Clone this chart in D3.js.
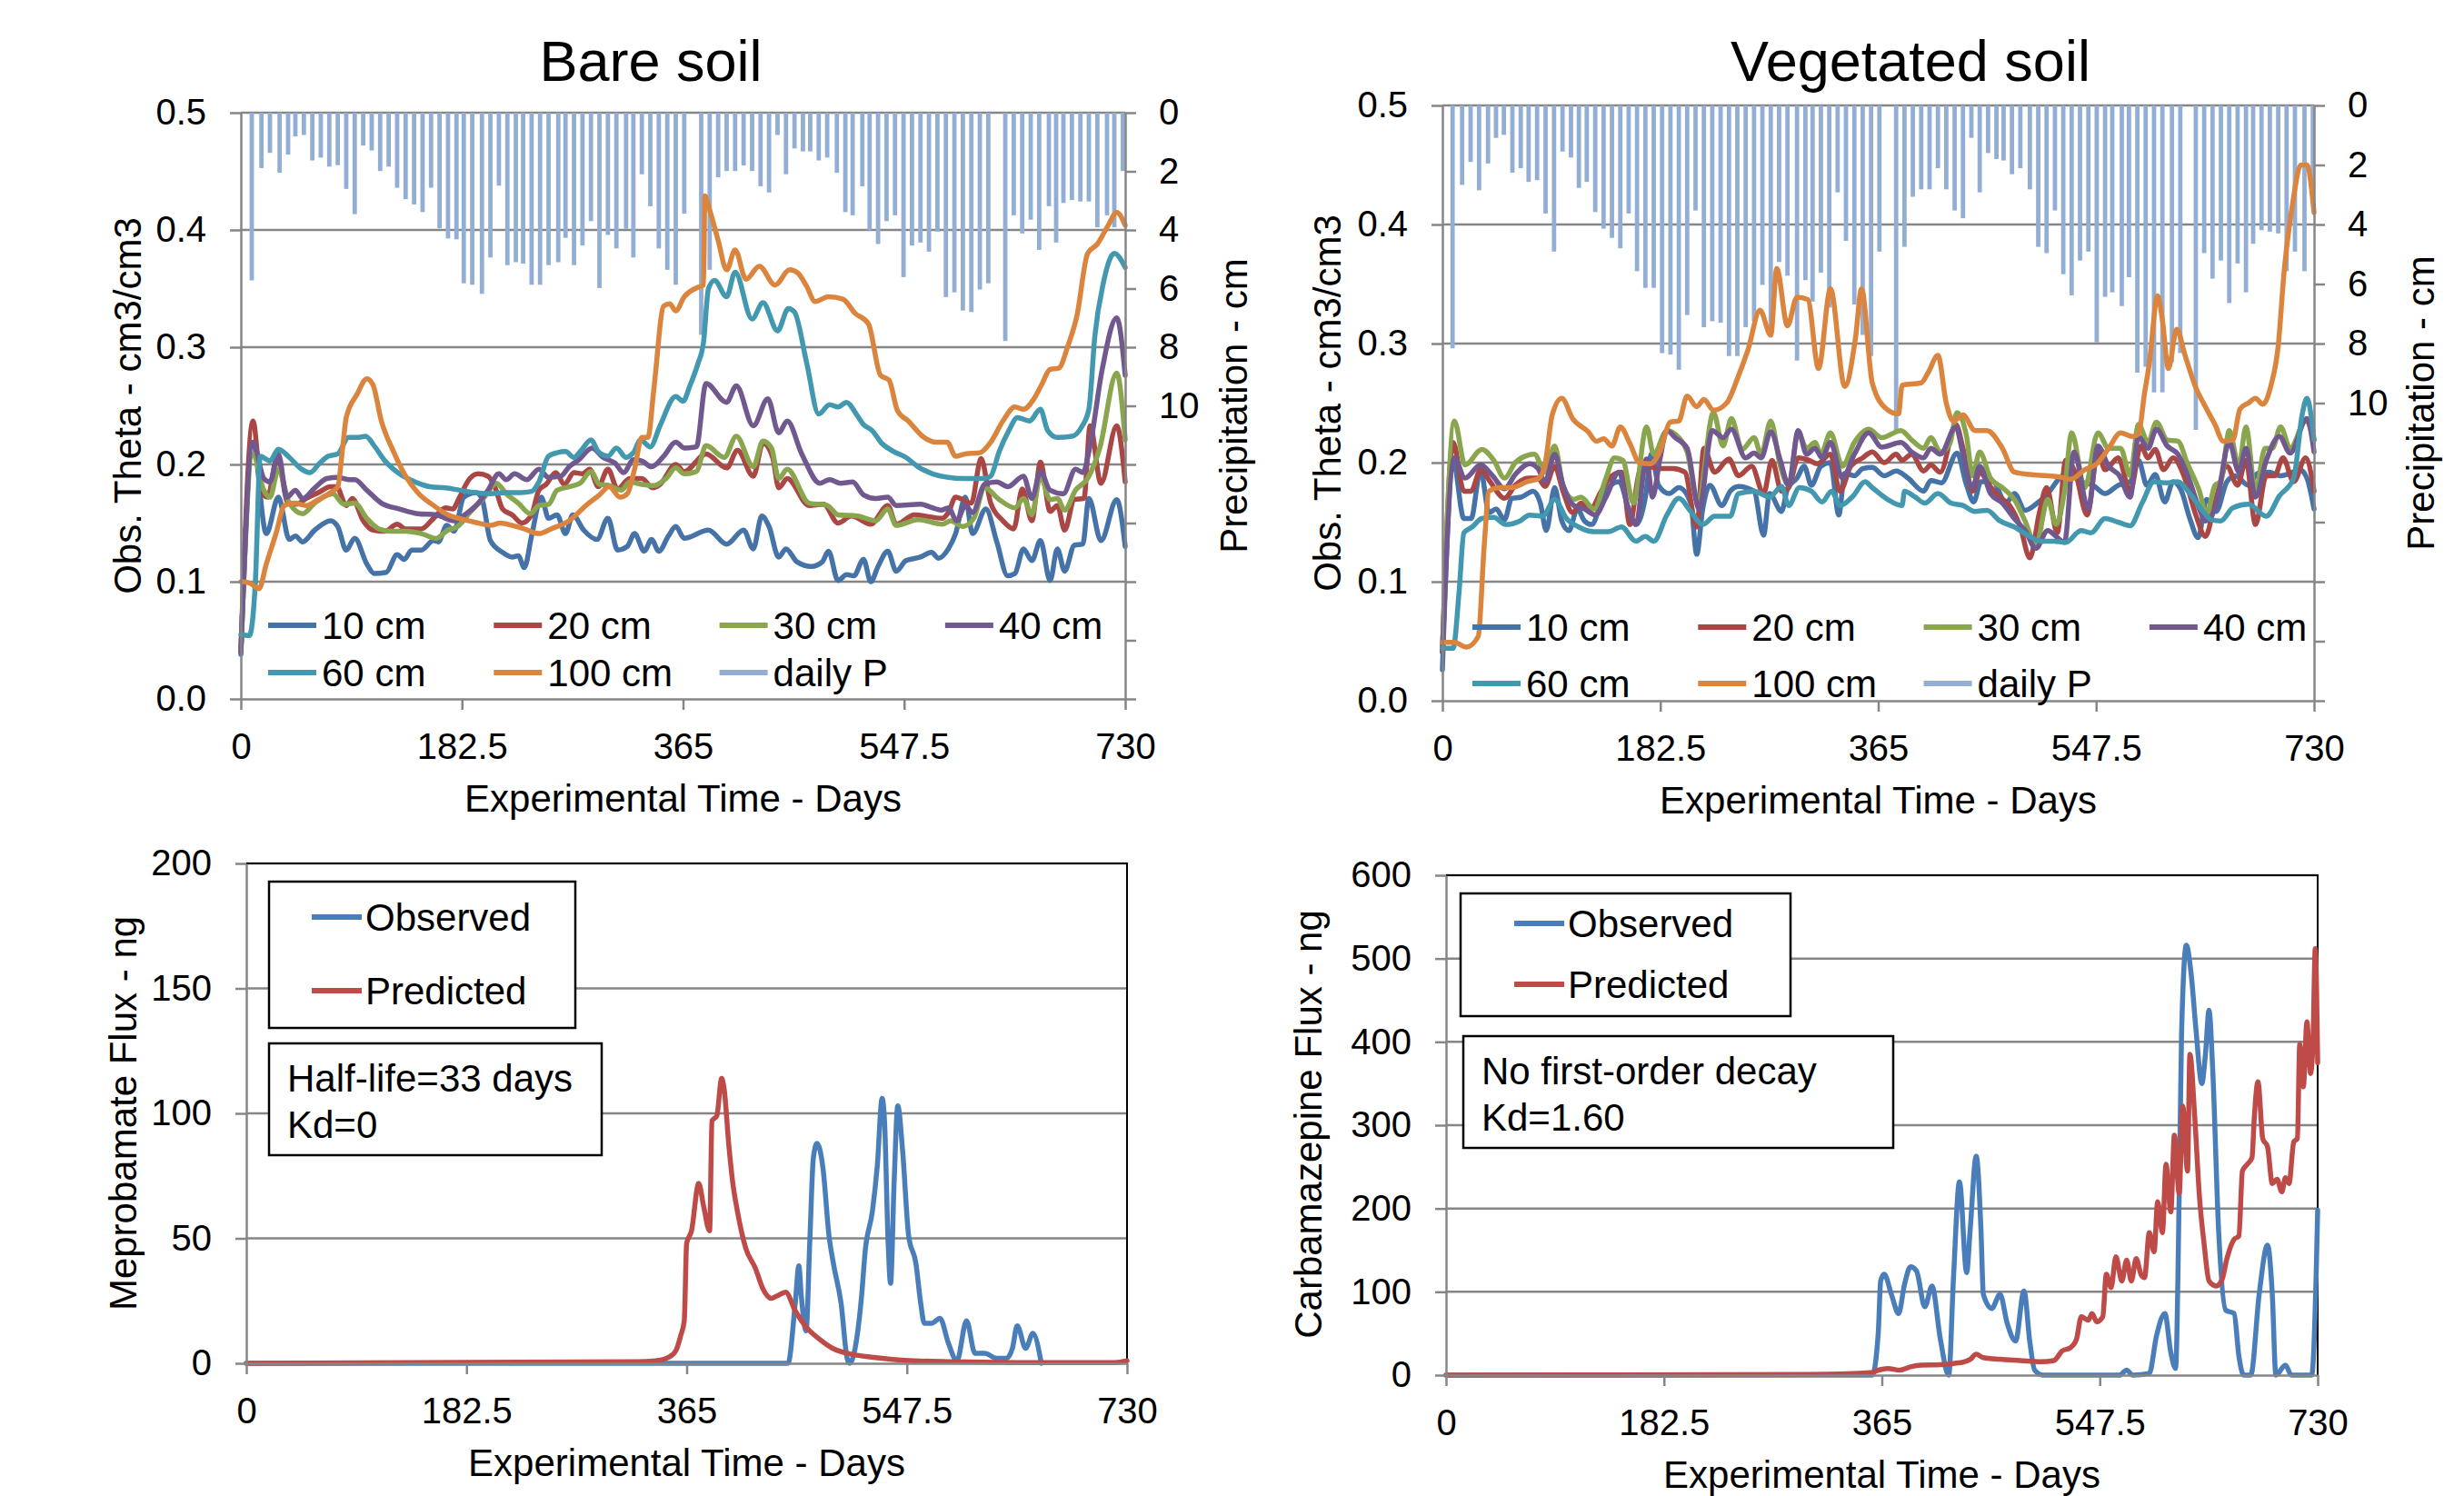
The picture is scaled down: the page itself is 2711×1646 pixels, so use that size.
<!DOCTYPE html>
<html>
<head>
<meta charset="utf-8">
<title>Soil moisture and drug flux</title>
<script src="https://d3js.org/d3.v7.min.js"></script>
<style>
  body { margin: 0; background: #fff; }
  text { font-family: "Liberation Sans", Arial, sans-serif; fill: #000; }
</style>
</head>
<body>
<svg width="2711" height="1646"></svg>
<script>
// ---- data: [day, value] pairs ----
const xTicks = [0, 182.5, 365, 547.5, 730];
const depthNames = ['10 cm', '20 cm', '30 cm', '40 cm', '60 cm', '100 cm'];

// bare soil, volumetric water content
const bare10 = [[0,0.038],[10,0.219],[21,0.141],[31,0.172],[40,0.136],[45,0.139],[51,0.134],[61,0.144],[74,0.152],[80,0.147],[87,0.127],[94,0.137],[104,0.115],[110,0.107],[120,0.108],[129,0.123],[135,0.119],[141,0.127],[149,0.127],[159,0.135],[163,0.134],[170,0.148],[176,0.143],[184,0.172],[194,0.176],[199,0.171],[206,0.135],[216,0.125],[224,0.121],[229,0.122],[234,0.112],[240,0.139],[248,0.172],[254,0.154],[261,0.157],[268,0.141],[274,0.157],[283,0.144],[294,0.136],[303,0.154],[311,0.127],[319,0.130],[325,0.141],[333,0.126],[339,0.136],[345,0.126],[353,0.139],[359,0.147],[366,0.137],[386,0.144],[401,0.132],[415,0.144],[423,0.128],[430,0.156],[436,0.147],[444,0.121],[450,0.128],[459,0.117],[471,0.113],[480,0.117],[485,0.126],[493,0.101],[500,0.106],[506,0.105],[514,0.119],[520,0.100],[526,0.113],[534,0.126],[541,0.109],[549,0.118],[561,0.121],[570,0.125],[576,0.120],[584,0.128],[590,0.141],[598,0.172],[604,0.141],[615,0.162],[624,0.134],[633,0.105],[639,0.107],[646,0.128],[653,0.118],[660,0.135],[668,0.101],[674,0.128],[680,0.109],[688,0.131],[695,0.132],[700,0.171],[710,0.135],[723,0.170],[730,0.130]];
const bare20 = [[0,0.04],[10,0.237],[17,0.178],[22,0.172],[30,0.206],[39,0.167],[46,0.166],[54,0.171],[64,0.176],[74,0.181],[79,0.181],[87,0.165],[92,0.171],[101,0.152],[109,0.144],[119,0.143],[129,0.149],[136,0.145],[149,0.145],[159,0.154],[169,0.163],[175,0.162],[180,0.171],[189,0.188],[196,0.192],[204,0.190],[210,0.180],[216,0.162],[224,0.157],[232,0.150],[240,0.157],[246,0.178],[252,0.183],[260,0.193],[267,0.183],[275,0.193],[282,0.192],[288,0.196],[295,0.181],[303,0.196],[311,0.179],[321,0.188],[331,0.188],[340,0.180],[346,0.183],[359,0.200],[366,0.194],[384,0.209],[401,0.197],[410,0.212],[423,0.190],[431,0.218],[439,0.206],[444,0.180],[451,0.188],[469,0.165],[481,0.166],[493,0.150],[504,0.156],[520,0.149],[534,0.165],[541,0.149],[556,0.157],[579,0.154],[584,0.159],[590,0.172],[603,0.167],[611,0.205],[619,0.167],[629,0.152],[638,0.145],[645,0.179],[653,0.152],[660,0.202],[668,0.160],[674,0.165],[680,0.144],[688,0.170],[696,0.171],[701,0.233],[710,0.184],[723,0.233],[730,0.185]];
const bare30 = [[0,0.04],[10,0.209],[19,0.178],[24,0.172],[31,0.196],[40,0.167],[51,0.158],[61,0.167],[76,0.175],[85,0.166],[94,0.167],[104,0.154],[114,0.145],[124,0.143],[136,0.143],[149,0.141],[161,0.137],[171,0.144],[179,0.147],[189,0.159],[201,0.172],[211,0.184],[219,0.175],[229,0.167],[239,0.158],[246,0.165],[254,0.166],[261,0.178],[271,0.181],[280,0.184],[289,0.194],[296,0.183],[304,0.182],[314,0.178],[321,0.185],[331,0.183],[341,0.182],[351,0.188],[359,0.197],[366,0.192],[376,0.194],[384,0.216],[399,0.206],[409,0.224],[423,0.198],[431,0.220],[438,0.214],[444,0.188],[451,0.196],[469,0.167],[484,0.165],[493,0.157],[509,0.156],[524,0.152],[534,0.162],[541,0.148],[559,0.153],[579,0.149],[586,0.152],[596,0.147],[605,0.154],[614,0.180],[626,0.170],[639,0.163],[646,0.171],[653,0.157],[660,0.190],[668,0.170],[674,0.171],[680,0.161],[689,0.178],[699,0.188],[709,0.214],[723,0.278],[730,0.221]];
const bare40 = [[0,0.04],[10,0.219],[19,0.188],[24,0.185],[31,0.209],[38,0.172],[45,0.178],[51,0.171],[61,0.180],[71,0.188],[80,0.189],[89,0.187],[94,0.187],[104,0.178],[116,0.167],[131,0.162],[146,0.158],[161,0.157],[176,0.152],[186,0.158],[196,0.167],[204,0.178],[213,0.192],[219,0.187],[226,0.192],[236,0.187],[246,0.196],[254,0.189],[264,0.190],[271,0.198],[279,0.204],[290,0.214],[299,0.206],[309,0.201],[316,0.193],[324,0.204],[331,0.203],[339,0.198],[349,0.207],[359,0.219],[366,0.214],[376,0.215],[384,0.269],[401,0.253],[409,0.267],[423,0.233],[435,0.256],[444,0.227],[451,0.237],[463,0.209],[478,0.184],[486,0.187],[495,0.184],[505,0.185],[514,0.174],[524,0.171],[534,0.172],[541,0.165],[561,0.166],[571,0.163],[578,0.161],[584,0.163],[591,0.152],[598,0.165],[604,0.159],[614,0.183],[624,0.185],[633,0.181],[646,0.190],[653,0.171],[660,0.194],[668,0.178],[679,0.175],[689,0.196],[695,0.193],[701,0.216],[711,0.281],[723,0.325],[730,0.276]];
const bare60 = [[0,0.055],[7,0.054],[12,0.100],[16,0.207],[24,0.203],[31,0.213],[40,0.206],[50,0.196],[57,0.193],[65,0.201],[72,0.207],[80,0.209],[89,0.223],[96,0.223],[103,0.224],[110,0.216],[119,0.203],[131,0.192],[144,0.185],[156,0.181],[169,0.180],[181,0.178],[194,0.176],[206,0.175],[219,0.176],[231,0.176],[240,0.177],[246,0.185],[254,0.207],[261,0.210],[268,0.211],[275,0.206],[281,0.212],[289,0.221],[295,0.211],[303,0.207],[310,0.214],[318,0.206],[324,0.210],[330,0.221],[338,0.215],[346,0.233],[359,0.258],[365,0.254],[371,0.268],[377,0.285],[382,0.305],[386,0.350],[391,0.357],[401,0.343],[408,0.364],[422,0.324],[431,0.338],[443,0.314],[452,0.333],[457,0.330],[467,0.287],[477,0.243],[486,0.251],[493,0.249],[500,0.253],[508,0.243],[514,0.234],[521,0.229],[529,0.218],[539,0.211],[549,0.206],[559,0.198],[571,0.192],[584,0.189],[596,0.188],[614,0.188],[619,0.190],[626,0.211],[634,0.229],[641,0.240],[651,0.237],[660,0.247],[666,0.229],[674,0.223],[686,0.224],[694,0.232],[700,0.247],[705,0.310],[712,0.355],[721,0.380],[730,0.368]];
const bare100 = [[0,0.100],[7,0.099],[15,0.094],[21,0.115],[29,0.141],[36,0.165],[44,0.167],[54,0.165],[64,0.170],[74,0.176],[80,0.181],[84,0.214],[87,0.240],[96,0.260],[104,0.273],[109,0.268],[116,0.237],[126,0.211],[136,0.190],[146,0.176],[159,0.165],[171,0.157],[184,0.153],[196,0.150],[206,0.148],[214,0.150],[224,0.148],[234,0.145],[246,0.141],[256,0.145],[271,0.152],[286,0.166],[296,0.174],[304,0.181],[313,0.172],[319,0.175],[325,0.196],[331,0.223],[336,0.223],[341,0.265],[349,0.335],[354,0.337],[359,0.331],[366,0.343],[377,0.351],[382,0.353],[383,0.429],[387,0.417],[394,0.391],[401,0.366],[408,0.383],[417,0.358],[428,0.369],[441,0.353],[453,0.366],[460,0.363],[467,0.352],[474,0.339],[485,0.343],[497,0.341],[507,0.329],[518,0.320],[528,0.276],[535,0.272],[542,0.246],[551,0.237],[564,0.223],[574,0.219],[583,0.219],[590,0.207],[598,0.209],[610,0.210],[619,0.219],[629,0.237],[639,0.249],[646,0.247],[654,0.255],[661,0.268],[668,0.281],[675,0.282],[683,0.302],[690,0.326],[699,0.380],[707,0.388],[716,0.404],[723,0.415],[730,0.404]];
// bare soil, weekly precipitation (cm)
const bareRain = [[9,5.72],[17,1.89],[24,1.37],[32,2.05],[39,1.43],[45,0.81],[52,0.76],[59,1.63],[66,1.53],[73,1.84],[80,1.79],[87,2.6],[94,3.46],[101,1.12],[108,1.29],[115,1.99],[122,1.84],[129,2.56],[136,2.95],[143,3.13],[150,3.39],[157,2.56],[164,3.94],[171,4.29],[178,4.32],[184,5.82],[191,5.87],[199,6.18],[206,4.94],[213,2.49],[220,5.2],[227,5.1],[233,5.15],[240,5.87],[247,5.87],[254,5.2],[262,5.1],[268,4.27],[275,5.2],[282,4.53],[289,3.7],[296,5.98],[303,4.17],[310,4.63],[318,3.96],[324,4.94],[331,2.1],[338,3.19],[345,4.63],[352,5.36],[359,5.87],[366,3.44],[380,7.58],[387,5.36],[394,2.2],[401,1.99],[408,1.99],[415,1.8],[422,1.99],[429,2.51],[436,2.72],[443,0.76],[450,2.1],[457,1.22],[464,1.32],[470,1.32],[477,1.63],[484,1.53],[492,2.05],[499,3.39],[505,3.5],[513,2.51],[519,4.01],[526,4.48],[533,3.7],[540,3.5],[547,5.61],[554,4.53],[561,4.43],[568,4.74],[575,4.06],[582,6.29],[589,6.13],[596,6.75],[603,6.8],[610,6.03],[617,5.82],[631,7.79],[638,3.5],[645,4.12],[652,3.65],[659,4.68],[667,3.19],[673,4.43],[679,3.08],[686,2.98],[693,3.03],[700,3.03],[707,3.91],[715,3.5],[721,3.91],[728,1.99]];

// vegetated soil, volumetric water content
const veg10 = [[0,0.026],[9,0.202],[18,0.153],[24,0.153],[32,0.194],[39,0.158],[45,0.161],[52,0.152],[58,0.170],[66,0.171],[76,0.176],[82,0.166],[87,0.143],[94,0.179],[100,0.151],[106,0.143],[113,0.161],[119,0.151],[125,0.148],[133,0.166],[141,0.181],[148,0.184],[156,0.161],[162,0.148],[170,0.171],[175,0.207],[181,0.181],[190,0.174],[198,0.179],[208,0.166],[213,0.123],[218,0.161],[224,0.181],[234,0.164],[241,0.176],[248,0.180],[261,0.176],[269,0.139],[274,0.174],[284,0.159],[289,0.178],[297,0.187],[303,0.197],[309,0.181],[317,0.197],[325,0.200],[332,0.156],[337,0.191],[345,0.189],[352,0.195],[360,0.196],[370,0.189],[380,0.193],[390,0.187],[403,0.176],[409,0.185],[418,0.183],[431,0.208],[439,0.181],[445,0.167],[451,0.184],[461,0.184],[472,0.166],[479,0.174],[488,0.160],[497,0.165],[507,0.174],[517,0.187],[525,0.192],[535,0.184],[545,0.181],[555,0.174],[566,0.181],[576,0.184],[583,0.202],[590,0.181],[597,0.190],[605,0.167],[612,0.184],[619,0.176],[626,0.153],[633,0.137],[640,0.169],[648,0.159],[657,0.184],[664,0.189],[675,0.181],[683,0.191],[692,0.192],[702,0.189],[710,0.191],[718,0.194],[724,0.187],[730,0.161]];
const veg20 = [[0,0.041],[9,0.217],[18,0.176],[24,0.176],[32,0.194],[40,0.184],[52,0.170],[61,0.181],[72,0.187],[80,0.187],[86,0.180],[94,0.197],[101,0.176],[109,0.158],[116,0.166],[124,0.161],[133,0.176],[142,0.189],[150,0.192],[157,0.148],[165,0.192],[172,0.197],[180,0.195],[193,0.195],[203,0.192],[213,0.146],[219,0.212],[228,0.192],[240,0.203],[248,0.189],[259,0.197],[269,0.174],[276,0.202],[284,0.176],[290,0.179],[298,0.204],[307,0.202],[314,0.199],[325,0.207],[333,0.176],[342,0.197],[352,0.204],[360,0.209],[370,0.200],[380,0.207],[385,0.202],[393,0.207],[403,0.193],[409,0.198],[417,0.192],[430,0.232],[436,0.212],[444,0.176],[450,0.192],[458,0.181],[467,0.171],[475,0.164],[484,0.146],[492,0.120],[500,0.158],[506,0.179],[515,0.141],[522,0.202],[530,0.192],[540,0.156],[549,0.209],[555,0.194],[566,0.204],[576,0.176],[585,0.214],[591,0.204],[597,0.211],[604,0.194],[612,0.204],[621,0.189],[631,0.156],[639,0.138],[647,0.166],[657,0.197],[666,0.181],[673,0.202],[681,0.148],[690,0.189],[697,0.189],[704,0.204],[713,0.184],[723,0.204],[730,0.176]];
const veg30 = [[0,0.041],[10,0.235],[19,0.198],[33,0.211],[43,0.202],[52,0.187],[61,0.200],[71,0.206],[77,0.207],[86,0.192],[94,0.214],[101,0.181],[110,0.169],[116,0.171],[127,0.161],[137,0.187],[144,0.204],[151,0.202],[160,0.166],[171,0.230],[177,0.207],[188,0.227],[198,0.221],[205,0.209],[214,0.166],[227,0.242],[235,0.214],[242,0.237],[251,0.211],[261,0.221],[267,0.207],[275,0.235],[283,0.197],[290,0.181],[298,0.225],[305,0.212],[312,0.217],[317,0.207],[325,0.225],[335,0.197],[345,0.217],[357,0.228],[368,0.221],[384,0.227],[393,0.219],[403,0.212],[409,0.221],[417,0.209],[425,0.216],[431,0.242],[439,0.222],[444,0.189],[450,0.209],[459,0.187],[469,0.179],[479,0.169],[488,0.151],[497,0.130],[507,0.169],[514,0.148],[521,0.176],[527,0.225],[538,0.179],[549,0.225],[558,0.212],[568,0.212],[576,0.189],[583,0.232],[591,0.217],[598,0.234],[607,0.219],[616,0.218],[624,0.199],[634,0.176],[640,0.156],[647,0.181],[652,0.184],[659,0.227],[667,0.197],[673,0.230],[681,0.176],[689,0.212],[695,0.212],[702,0.230],[710,0.212],[723,0.235],[730,0.219]];
const veg40 = [[0,0.041],[10,0.204],[19,0.187],[32,0.198],[42,0.189],[52,0.178],[61,0.190],[73,0.199],[80,0.195],[86,0.184],[94,0.207],[101,0.181],[110,0.164],[119,0.161],[128,0.156],[137,0.171],[148,0.192],[155,0.164],[162,0.148],[171,0.203],[176,0.171],[182,0.202],[188,0.227],[195,0.221],[205,0.212],[215,0.161],[226,0.227],[235,0.221],[242,0.228],[254,0.204],[261,0.208],[267,0.204],[275,0.226],[283,0.202],[290,0.181],[298,0.227],[305,0.207],[312,0.212],[318,0.204],[325,0.217],[335,0.187],[345,0.207],[357,0.225],[368,0.213],[384,0.217],[393,0.209],[403,0.204],[409,0.212],[417,0.207],[430,0.230],[436,0.207],[444,0.179],[450,0.197],[459,0.174],[469,0.166],[479,0.153],[488,0.143],[497,0.128],[507,0.143],[514,0.138],[521,0.133],[529,0.209],[541,0.161],[549,0.214],[558,0.197],[567,0.189],[576,0.171],[583,0.222],[591,0.212],[598,0.228],[607,0.214],[616,0.207],[625,0.187],[634,0.161],[639,0.151],[648,0.164],[659,0.217],[667,0.192],[673,0.212],[681,0.171],[690,0.202],[701,0.222],[710,0.208],[724,0.237],[730,0.209]];
const veg60 = [[0,0.044],[9,0.044],[14,0.092],[18,0.141],[25,0.146],[33,0.153],[43,0.154],[53,0.148],[65,0.151],[73,0.156],[84,0.155],[94,0.169],[104,0.153],[114,0.146],[127,0.142],[139,0.142],[150,0.146],[162,0.134],[170,0.138],[177,0.134],[188,0.156],[198,0.170],[208,0.159],[218,0.148],[228,0.155],[241,0.155],[248,0.174],[261,0.176],[274,0.171],[284,0.180],[290,0.164],[299,0.179],[309,0.176],[318,0.167],[326,0.176],[333,0.164],[344,0.172],[354,0.184],[360,0.179],[373,0.169],[385,0.164],[387,0.176],[396,0.171],[404,0.166],[415,0.174],[426,0.166],[436,0.164],[446,0.159],[456,0.160],[467,0.151],[479,0.146],[492,0.138],[502,0.134],[512,0.134],[522,0.133],[535,0.143],[543,0.141],[555,0.153],[566,0.150],[576,0.147],[586,0.166],[596,0.184],[606,0.183],[616,0.184],[626,0.174],[637,0.159],[644,0.152],[652,0.151],[662,0.162],[675,0.165],[690,0.155],[701,0.172],[713,0.187],[720,0.240],[724,0.254],[730,0.219]];
const veg100 = [[0,0.049],[10,0.049],[20,0.045],[30,0.054],[35,0.130],[39,0.176],[48,0.179],[58,0.179],[71,0.184],[81,0.187],[86,0.199],[92,0.240],[100,0.254],[109,0.237],[122,0.226],[129,0.218],[135,0.220],[142,0.214],[149,0.230],[157,0.216],[165,0.200],[174,0.199],[182,0.209],[191,0.234],[198,0.235],[205,0.256],[213,0.247],[219,0.253],[227,0.244],[238,0.250],[248,0.273],[256,0.295],[266,0.328],[275,0.307],[280,0.363],[289,0.315],[297,0.339],[306,0.337],[315,0.279],[325,0.346],[337,0.264],[346,0.305],[351,0.346],[360,0.267],[372,0.245],[382,0.241],[385,0.265],[401,0.267],[407,0.276],[415,0.290],[422,0.250],[428,0.235],[436,0.240],[446,0.227],[456,0.227],[469,0.212],[479,0.192],[492,0.190],[507,0.189],[517,0.188],[526,0.186],[538,0.194],[548,0.199],[558,0.212],[568,0.225],[578,0.222],[583,0.224],[588,0.258],[592,0.283],[599,0.340],[603,0.320],[608,0.279],[615,0.312],[622,0.290],[631,0.263],[639,0.247],[647,0.232],[654,0.218],[662,0.219],[668,0.245],[675,0.250],[681,0.254],[687,0.249],[694,0.265],[700,0.298],[705,0.361],[712,0.417],[719,0.450],[724,0.450],[730,0.410]];
// vegetated soil, weekly precipitation (cm)
const vegRain = [[8.5,8.16],[16.5,2.67],[23.6,1.9],[30.7,2.85],[38.2,1.95],[44.9,1.09],[51.5,0.99],[58.6,2.26],[65.6,2.11],[72.2,2.57],[79.3,2.51],[86.4,3.63],[93.5,4.91],[100.6,1.55],[107.7,1.75],[114.3,2.77],[120.9,2.57],[128,3.58],[135,4.14],[142,4.45],[149,4.8],[156,3.63],[163,5.57],[170,6.13],[177,6.13],[184,8.32],[191,8.37],[198,8.88],[205,7.04],[212,3.53],[219,7.45],[226,7.25],[233,7.3],[240,8.42],[247,8.42],[254,7.45],[261,7.25],[268,6.03],[275,7.71],[282,5.26],[289,5.72],[297,8.57],[304,5.87],[310,6.59],[317,5.62],[324,6.79],[331,2.92],[338,4.55],[345,6.69],[352,7.71],[359,8.42],[366,4.91],[380,10.9],[387,4.75],[394,3.07],[401,2.82],[408,2.82],[415,2.11],[422,2.82],[429,3.53],[436,3.79],[443,1.09],[450,2.92],[457,1.6],[464,1.8],[470,1.85],[477,2.31],[484,2.11],[492,2.82],[499,4.75],[506,4.96],[513,3.53],[520,5.67],[527,6.38],[534,5.21],[541,4.91],[548,7.96],[555,6.43],[561,6.28],[569,6.74],[575,5.77],[582,8.98],[589,8.78],[596,9.64],[603,9.64],[611,8.62],[618,8.32],[631,10.9],[638,4.96],[645,5.82],[652,5.21],[659,6.64],[666,5.31],[673,6.28],[679,4.65],[686,4.19],[693,4.24],[700,4.3],[707,5.57],[714,4.91],[722,5.57],[729,2.92]];

// meprobamate flux (ng), bare soil
const mepObserved = [[0,0],[449,0],[455,24],[458,39],[460,27],[464,13],[467,48],[470,82],[473,88],[478,78],[483,51],[487,39],[493,24],[498,2],[500,0],[506,10],[510,27],[513,45],[519,61],[523,79],[527,106],[529,97],[532,48],[534,32],[537,73],[540,103],[544,85],[549,51],[555,40],[559,24],[562,16],[568,16],[575,18],[582,8],[589,1],[597,17],[604,4],[612,4],[622,2],[630,2],[635,6],[639,15],[646,6],[652,12],[659,0]];
const mepPredicted = [[0,0],[324,0.6],[339,1],[350,2.4],[356,5],[360,11],[363,17],[365,48],[369,53],[375,72],[379,63],[384,53],[386,97],[390,99],[394,114],[396,110],[400,87],[403,73],[407,61],[414,46],[422,38],[428,30],[435,26],[440,27],[447,28.5],[455,21],[465,14],[475,9.7],[486,6],[502,3.6],[520,2.4],[546,1.2],[585,0.6],[638,0.3],[720,0.3],[730,1]];

// carbamazepine flux (ng), vegetated soil
const cbzObserved = [[0,0],[357,0],[362,51],[364,113],[367,121],[373,97],[379,74],[384,109],[389,130],[394,125],[401,82],[407,107],[414,43],[421,0],[425,117],[430,232],[436,123],[439,175],[444,263],[448,175],[450,97],[457,80],[464,97],[470,62],[477,41],[484,101],[489,39],[493,6],[500,0],[564,0],[570,6],[575,0],[589,2],[595,47],[602,74],[607,27],[611,8],[614,214],[616,409],[620,516],[624,482],[628,416],[633,350],[636,385],[639,438],[642,370],[647,175],[653,78],[660,74],[664,23],[668,0],[674,0],[681,97],[688,156],[692,97],[695,0],[703,12],[708,0],[725,0],[729,136],[730,198]];
const cbzPredicted = [[0,0],[303,0.8],[356,3],[362,6],[370,8],[380,6],[389,10],[398,12],[414,12.5],[425,14],[434,16],[439,19],[444,25],[450,21],[464,19],[481,17.5],[498,16],[509,17.5],[516,29],[523,33],[528,43],[532,70],[538,66],[541,74],[545,64],[550,70],[553,121],[557,105],[561,142],[566,113],[570,138],[574,113],[578,140],[582,121],[585,117],[589,171],[593,148],[596,208],[600,171],[603,253],[607,196],[610,288],[614,218],[617,323],[621,245],[623,385],[627,311],[631,214],[635,156],[639,113],[645,107],[650,115],[654,140],[660,163],[664,167],[667,245],[671,253],[675,261],[677,311],[680,352],[684,284],[688,274],[692,230],[696,235],[700,220],[703,237],[706,230],[710,280],[713,284],[715,397],[718,346],[721,424],[724,362],[726,397],[728,512],[730,375]];

// ---- drawing ----
const svg = d3.select('svg');
const FONT = '"Liberation Sans", Arial, sans-serif';
const grid = '#868686';
const depthColors = ['#4572A7', '#AA4643', '#89A54E', '#71588F', '#4198AF', '#DB843D'];
const rainColor = '#93AED5';
const obsColor = '#4A7EBB', predColor = '#BE4B48';

svg.append('rect').attr('width', 2711).attr('height', 1646).attr('fill', '#fff');

function styleAxis(g, size) {
  g.attr('font-family', FONT).attr('font-size', size);
  g.select('.domain').attr('stroke', grid).attr('stroke-width', 2.5);
  g.selectAll('.tick line').attr('stroke', grid).attr('stroke-width', 2.5);
  g.selectAll('.tick text').attr('fill', '#000');
}

function smoothLine(x, y) {
  return d3.line().x(d => x(d[0])).y(d => y(d[1])).curve(d3.curveMonotoneX);
}

function xAxisBits(g, x, box, labelY, title) {
  const ax = g.append('g').attr('transform', `translate(0,${box.b})`)
    .call(d3.axisBottom(x).tickValues(xTicks).tickFormat(d => d)
      .tickSize(12).tickSizeOuter(0).tickPadding(26));
  styleAxis(ax, 40);
  g.append('text').attr('x', (box.l + box.r) / 2).attr('y', labelY)
    .attr('text-anchor', 'middle').attr('font-size', 42).text(title);
}

function yTitle(g, cx, cy, t) {
  g.append('text').attr('transform', `translate(${cx + 15},${cy}) rotate(-90)`)
    .attr('text-anchor', 'middle').attr('font-size', 42).text(t);
}

function thetaPanel(box, name, titleX, series, rain, leg) {
  const g = svg.append('g');
  const x = d3.scaleLinear().domain([0, 730]).range([box.l, box.r]);
  const y = d3.scaleLinear().domain([0, 0.5]).range([box.b, box.t]);
  const yp = d3.scaleLinear().domain([0, 20]).range([box.t, box.b]);

  g.selectAll('.grid').data([0.1, 0.2, 0.3, 0.4, 0.5]).enter().append('line')
    .attr('x1', box.l).attr('x2', box.r).attr('y1', d => y(d)).attr('y2', d => y(d))
    .attr('stroke', grid).attr('stroke-width', 2.5);

  // precipitation bars hanging from the top
  g.selectAll('.bar').data(rain).enter().append('rect')
    .attr('x', d => x(d[0]) - 2.4).attr('width', 4.8)
    .attr('y', yp(0)).attr('height', d => yp(d[1]) - yp(0))
    .attr('fill', rainColor);

  series.forEach((s, i) => {
    g.append('path').datum(s).attr('d', smoothLine(x, y))
      .attr('fill', 'none').attr('stroke', depthColors[i]).attr('stroke-width', 5.5)
      .attr('stroke-linejoin', 'round').attr('stroke-linecap', 'round');
  });

  const ay = g.append('g').attr('transform', `translate(${box.l},0)`)
    .call(d3.axisLeft(y).tickValues([0, 0.1, 0.2, 0.3, 0.4, 0.5]).tickFormat(d3.format('.1f'))
      .tickSize(12).tickSizeOuter(0).tickPadding(26));
  styleAxis(ay, 40);
  const ar = g.append('g').attr('transform', `translate(${box.r},0)`)
    .call(d3.axisRight(yp).tickValues(d3.range(0, 21, 2)).tickFormat(d => d <= 10 ? d : '')
      .tickSize(12).tickSizeOuter(0).tickPadding(25));
  styleAxis(ar, 40);
  xAxisBits(g, x, box, box.b + 124, 'Experimental Time - Days');

  g.append('text').attr('x', titleX).attr('y', 89).attr('text-anchor', 'middle')
    .attr('font-size', 63).text(name);
  yTitle(g, leg.yTitleX, (box.t + box.b) / 2, 'Obs. Theta - cm3/cm3');
  yTitle(g, leg.pTitleX, (box.t + box.b) / 2, 'Precipitation - cm');

  // legend: four entries on the first row, three on the second
  const names = depthNames.concat(['daily P']);
  names.forEach((n, i) => {
    const c = i < 6 ? depthColors[i] : rainColor;
    const row = i < 4 ? 0 : 1, col = i < 4 ? i : i - 4;
    const lx = leg.x0 + col * leg.dx, ly = leg.rows[row];
    g.append('line').attr('x1', lx).attr('x2', lx + 53).attr('y1', ly).attr('y2', ly)
      .attr('stroke', c).attr('stroke-width', 6);
    g.append('text').attr('x', lx + 59).attr('y', ly + 15).attr('font-size', 42).text(n);
  });
}

function fluxPanel(box, yMax, yStep, title, obs, pred, legBox, noteBox, note) {
  const g = svg.append('g');
  const x = d3.scaleLinear().domain([0, 730]).range([box.l, box.r]);
  const y = d3.scaleLinear().domain([0, yMax]).range([box.b, box.t]);
  const ticks = d3.range(0, yMax + 1, yStep);

  g.selectAll('.grid').data(ticks.slice(1)).enter().append('line')
    .attr('x1', box.l).attr('x2', box.r).attr('y1', d => y(d)).attr('y2', d => y(d))
    .attr('stroke', grid).attr('stroke-width', 2.5);
  g.append('path').attr('d', `M${box.l},${box.t}H${box.r}V${box.b}`)
    .attr('fill', 'none').attr('stroke', '#000').attr('stroke-width', 2);

  [[obs, obsColor], [pred, predColor]].forEach(([s, c]) => {
    g.append('path').datum(s).attr('d', smoothLine(x, y))
      .attr('fill', 'none').attr('stroke', c).attr('stroke-width', 5.5)
      .attr('stroke-linejoin', 'round').attr('stroke-linecap', 'round');
  });

  const ay = g.append('g').attr('transform', `translate(${box.l},0)`)
    .call(d3.axisLeft(y).tickValues(ticks).tickSize(12).tickSizeOuter(0).tickPadding(26));
  styleAxis(ay, 40);
  xAxisBits(g, x, box, box.b + 124, 'Experimental Time - Days');
  yTitle(g, box.yTitleX, box.yTitleY, title);

  // legend box
  g.append('rect').attr('x', legBox.x).attr('y', legBox.y).attr('width', legBox.w).attr('height', legBox.h)
    .attr('fill', '#fff').attr('stroke', '#000').attr('stroke-width', 2.5);
  [['Observed', obsColor, legBox.r1], ['Predicted', predColor, legBox.r2]].forEach(([n, c, ly]) => {
    g.append('line').attr('x1', legBox.lx).attr('x2', legBox.lx + 55).attr('y1', ly).attr('y2', ly)
      .attr('stroke', c).attr('stroke-width', 6);
    g.append('text').attr('x', legBox.lx + 59).attr('y', ly + 15).attr('font-size', 42).text(n);
  });

  // annotation box
  g.append('rect').attr('x', noteBox.x).attr('y', noteBox.y).attr('width', noteBox.w).attr('height', noteBox.h)
    .attr('fill', '#fff').attr('stroke', '#000').attr('stroke-width', 2.5);
  note.forEach((t, i) => {
    g.append('text').attr('x', noteBox.x + 20).attr('y', noteBox.y + 53 + i * 51)
      .attr('font-size', 42).text(t);
  });
}

thetaPanel({ l: 265, r: 1238, t: 124, b: 769 }, 'Bare soil', 716,
  [bare10, bare20, bare30, bare40, bare60, bare100], bareRain,
  { x0: 295, dx: 248.3, rows: [688, 740], yTitleX: 140, pTitleX: 1357 });

thetaPanel({ l: 1587, r: 2546, t: 116, b: 771 }, 'Vegetated soil', 2102,
  [veg10, veg20, veg30, veg40, veg60, veg100], vegRain,
  { x0: 1620, dx: 248.3, rows: [690, 752], yTitleX: 1460, pTitleX: 2663 });

fluxPanel({ l: 271, r: 1240, t: 950, b: 1500, yTitleX: 135, yTitleY: 1225 }, 200, 50,
  'Meprobamate Flux - ng', mepObserved, mepPredicted,
  { x: 296, y: 970, w: 337, h: 161, lx: 343, r1: 1009, r2: 1090 },
  { x: 296, y: 1148, w: 366, h: 123 },
  ['Half-life=33 days', 'Kd=0']);

fluxPanel({ l: 1591, r: 2550, t: 963, b: 1513, yTitleX: 1439, yTitleY: 1237 }, 600, 100,
  'Carbamazepine Flux - ng', cbzObserved, cbzPredicted,
  { x: 1607, y: 983, w: 363, h: 135, lx: 1666, r1: 1016, r2: 1083 },
  { x: 1610, y: 1140, w: 473, h: 123 },
  ['No first-order decay', 'Kd=1.60']);
</script>
</body>
</html>
